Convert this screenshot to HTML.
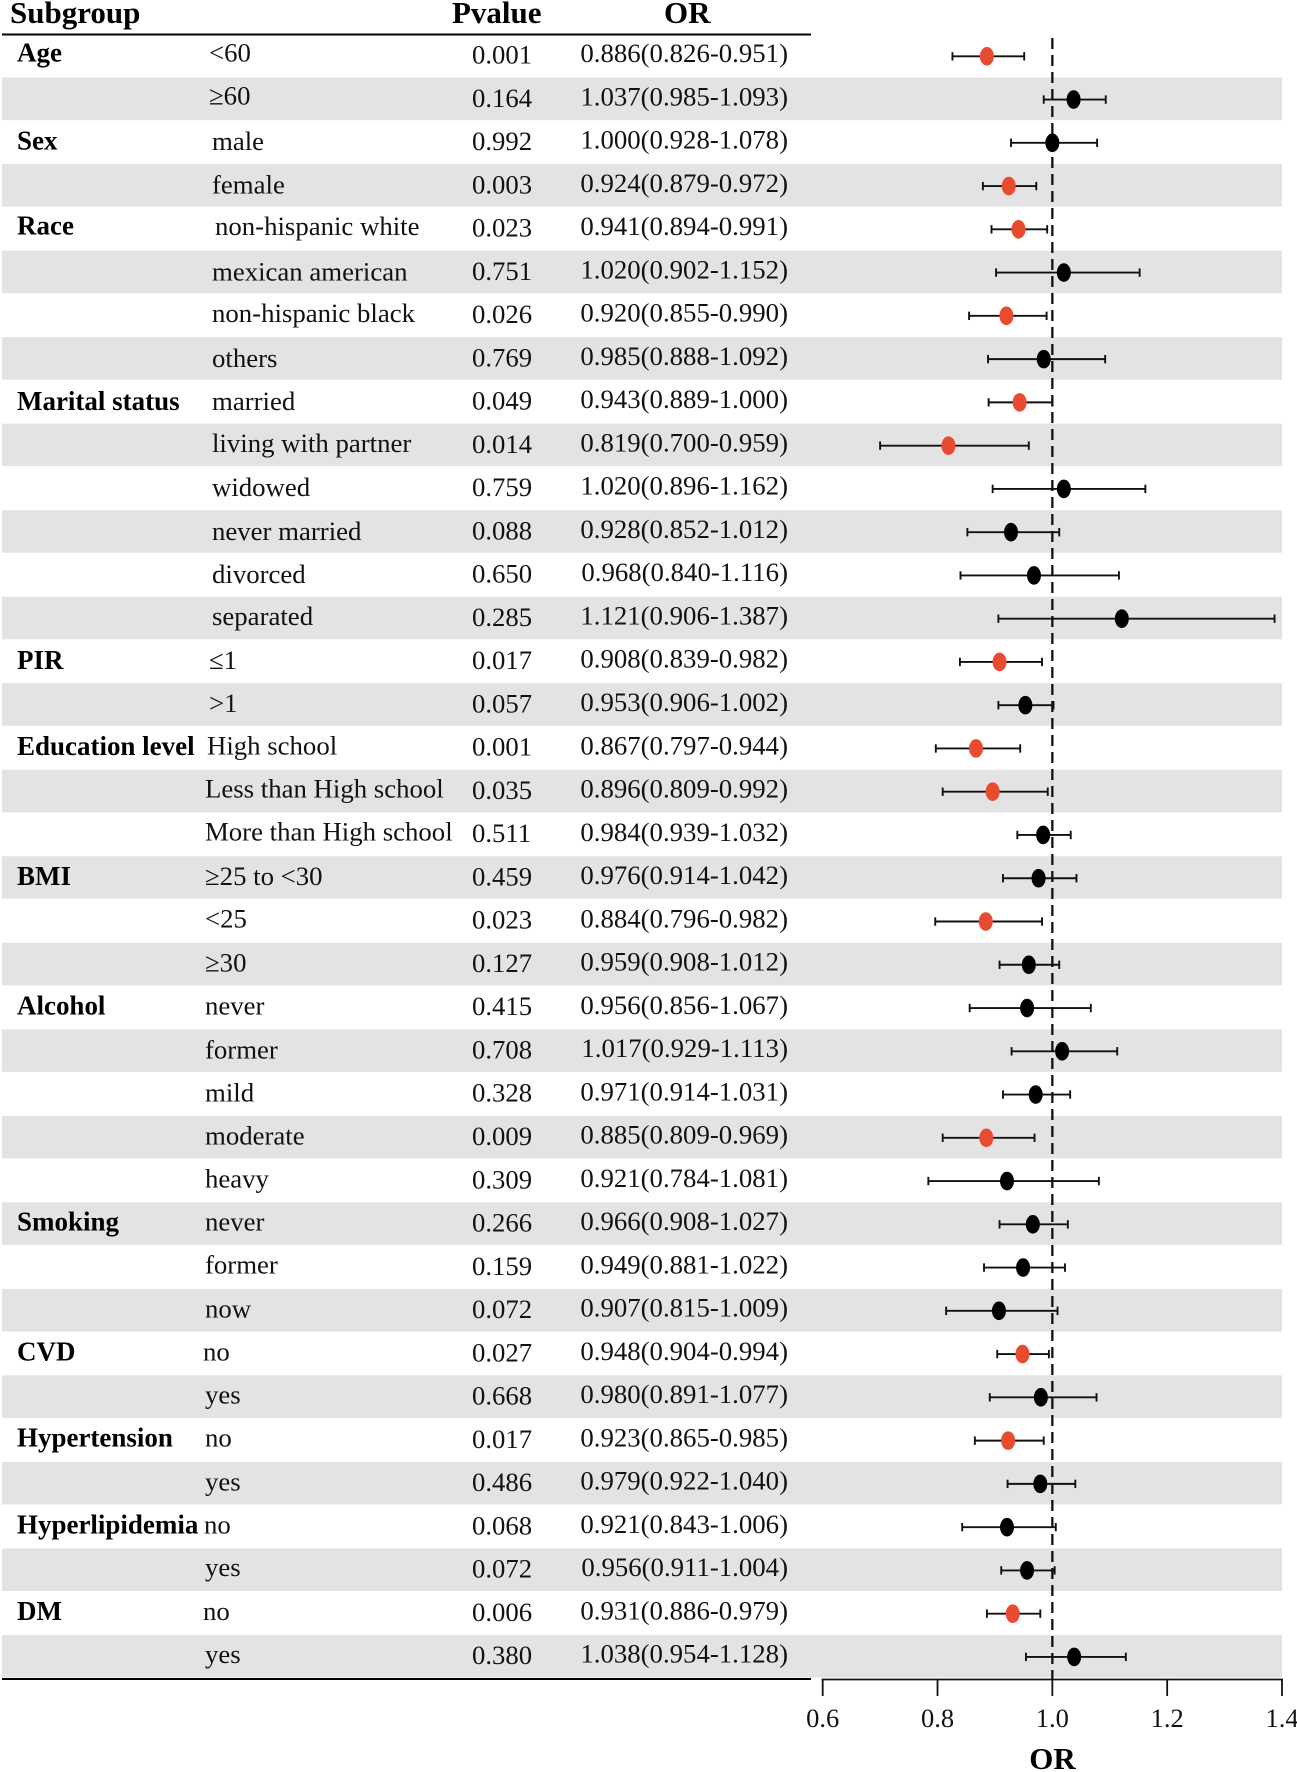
<!DOCTYPE html>
<html lang="en">
<head>
<meta charset="utf-8">
<title>Subgroup forest plot</title>
<style>
html,body{margin:0;padding:0;background:#fff}
svg{display:block}
text{font-family:"Liberation Serif",serif;font-size:26.5px;fill:#111}
#labels text{font-size:26.8px}
#ors text{font-size:26.8px}
#pvals text{font-size:26.7px}
.g{font-weight:bold;fill:#000;font-size:27px}
#labels text.g{font-size:27px}
.h{font-weight:bold;font-size:31px;fill:#000}
</style>
</head>
<body>
<svg id="chart" xmlns="http://www.w3.org/2000/svg" width="1297" height="1772" viewBox="0 0 1297 1772">
<g id="bands"></g>
<line x1="2" x2="811" y1="34.5" y2="34.5" stroke="#000" stroke-width="2"/>
<line x1="2" x2="811" y1="1679" y2="1679" stroke="#000" stroke-width="2"/>
<text class="h" x="10" y="23">Subgroup</text>
<text class="h" x="452" y="23">Pvalue</text>
<text class="h" x="664" y="23">OR</text>
<g id="labels" transform="translate(0,-0.5) scale(1,0.9992)">
<g>
<text class="g" x="17" y="62">Age</text>
<text class="g" x="17" y="150">Sex</text>
<text class="g" x="17" y="235">Race</text>
<text class="g" x="17" y="411">Marital status</text>
<text class="g" x="17" y="670">PIR</text>
<text class="g" x="17" y="756">Education level</text>
<text class="g" x="17" y="886">BMI</text>
<text class="g" x="17" y="1016">Alcohol</text>
<text class="g" x="17" y="1232">Smoking</text>
<text class="g" x="17" y="1362">CVD</text>
<text class="g" x="17" y="1448">Hypertension</text>
<text class="g" x="17" y="1535">Hyperlipidemia</text>
<text class="g" x="17" y="1622">DM</text>
</g>
<g>
<text x="209" y="62">&lt;60</text>
<text x="209" y="105">≥60</text>
<text x="212" y="150.5">male</text>
<text x="212" y="194">female</text>
<text x="215" y="235.5">non-hispanic white</text>
<text x="212" y="281">mexican american</text>
<text x="212" y="322.7">non-hispanic black</text>
<text x="212" y="368">others</text>
<text x="212" y="411">married</text>
<text x="212" y="452.8">living with partner</text>
<text x="212" y="497">widowed</text>
<text x="212" y="541">never married</text>
<text x="212" y="584">divorced</text>
<text x="212" y="625.8">separated</text>
<text x="209" y="670">≤1</text>
<text x="209" y="713">&gt;1</text>
<text x="207" y="755.8">High school</text>
<text x="205" y="798.8">Less than High school</text>
<text x="205" y="841.8">More than High school</text>
<text x="205" y="886">≥25 to &lt;30</text>
<text x="205" y="928.8">&lt;25</text>
<text x="205" y="973">≥30</text>
<text x="205" y="1016">never</text>
<text x="205" y="1060">former</text>
<text x="205" y="1103">mild</text>
<text x="205" y="1146">moderate</text>
<text x="205" y="1189">heavy</text>
<text x="205" y="1232">never</text>
<text x="205" y="1275">former</text>
<text x="205" y="1319">now</text>
<text x="203" y="1362">no</text>
<text x="205" y="1405">yes</text>
<text x="205" y="1448">no</text>
<text x="205" y="1492">yes</text>
<text x="204" y="1535">no</text>
<text x="205" y="1578">yes</text>
<text x="203" y="1622">no</text>
<text x="205" y="1665">yes</text>
</g>
</g>
<g id="pvals"></g>
<g id="ors"></g>
<g id="axis"></g>
<g id="refline"></g>
<g id="marks"></g>
<text class="h" x="1052.5" y="1769" text-anchor="middle">OR</text>
</svg>
<script>
const pValues = [0.001,0.164,0.992,0.003,0.023,0.751,0.026,0.769,0.049,0.014,0.759,0.088,0.650,0.285,0.017,0.057,0.001,0.035,0.511,0.459,0.023,0.127,0.415,0.708,0.328,0.009,0.309,0.266,0.159,0.072,0.027,0.668,0.017,0.486,0.068,0.072,0.006,0.380];
const orValues = [0.886,1.037,1.000,0.924,0.941,1.020,0.920,0.985,0.943,0.819,1.020,0.928,0.968,1.121,0.908,0.953,0.867,0.896,0.984,0.976,0.884,0.959,0.956,1.017,0.971,0.885,0.921,0.966,0.949,0.907,0.948,0.980,0.923,0.979,0.921,0.956,0.931,1.038];
const lowerValues = [0.826,0.985,0.928,0.879,0.894,0.902,0.855,0.888,0.889,0.700,0.896,0.852,0.840,0.906,0.839,0.906,0.797,0.809,0.939,0.914,0.796,0.908,0.856,0.929,0.914,0.809,0.784,0.908,0.881,0.815,0.904,0.891,0.865,0.922,0.843,0.911,0.886,0.954];
const upperValues = [0.951,1.093,1.078,0.972,0.991,1.152,0.990,1.092,1.000,0.959,1.162,1.012,1.116,1.387,0.982,1.002,0.944,0.992,1.032,1.042,0.982,1.012,1.067,1.113,1.031,0.969,1.081,1.027,1.022,1.009,0.994,1.077,0.985,1.040,1.006,1.004,0.979,1.128];
const xTicks = [0.6,0.8,1.0,1.2,1.4];
const refValue = 1.0;
const alpha = 0.05;

const NS = 'http://www.w3.org/2000/svg';
const xOf = v => 822.7 + (v - 0.6) / 0.8 * 459.3;
const yOf = i => 56.3 + i * 43.26;
function mk(tag, parent, attrs, txt) {
  const el = document.createElementNS(NS, tag);
  for (const k in attrs) el.setAttribute(k, attrs[k]);
  if (txt !== undefined) el.textContent = txt;
  parent.appendChild(el);
  return el;
}
const bandsG = document.getElementById('bands');
const pG = document.getElementById('pvals');
const orG = document.getElementById('ors');
const marksG = document.getElementById('marks');
const axisG = document.getElementById('axis');
const refG = document.getElementById('refline');

orValues.forEach((v, i) => {
  const y = yOf(i);
  if (i % 2 === 1) {
    const band = mk('rect', bandsG, {x: 2, y: y - 22, width: 1280, height: 42.6, fill: '#e3e3e3'});
    
    
  }
  const pt = mk('text', pG, {x: 472, y: y + 7.2}, pValues[i].toFixed(3));
  
  
  const ot = mk('text', orG, {x: 788, y: y + 5.8, 'text-anchor': 'end'},
    v.toFixed(3) + '(' + lowerValues[i].toFixed(3) + '-' + upperValues[i].toFixed(3) + ')');
  
  

  const row = mk('g', marksG, {});
  
  
  const ci = mk('line', row, {x1: xOf(lowerValues[i]), x2: xOf(upperValues[i]), y1: y, y2: y, stroke: '#111', 'stroke-width': 1.9});
  
  
  [lowerValues[i], upperValues[i]].forEach(c => {
    const cap = mk('line', row, {x1: xOf(c), x2: xOf(c), y1: y - 4.2, y2: y + 4.2, stroke: '#111', 'stroke-width': 1.9});
    
    
  });
  const dot = mk('ellipse', row, {cx: xOf(v), cy: y, rx: 7, ry: 9.3, fill: pValues[i] < alpha ? '#e94b30' : '#000'});
  
  
});

const ref = mk('line', refG, {x1: xOf(refValue), x2: xOf(refValue), y1: 38, y2: 1679, stroke: '#111', 'stroke-width': 2.3, 'stroke-dasharray': '11 6'});



const axisLine = mk('line', axisG, {x1: xOf(xTicks[0]) - 1, x2: xOf(xTicks[xTicks.length - 1]) + 1, y1: 1679.5, y2: 1679.5, stroke: '#111', 'stroke-width': 1.8});


xTicks.forEach(t => {
  const tick = mk('line', axisG, {x1: xOf(t), x2: xOf(t), y1: 1679, y2: 1696, stroke: '#111', 'stroke-width': 1.8});
  
  
  const lab = mk('text', axisG, {x: xOf(t), y: 1727, 'text-anchor': 'middle'}, t.toFixed(1));
  
  
});
</script>
</body>
</html>
